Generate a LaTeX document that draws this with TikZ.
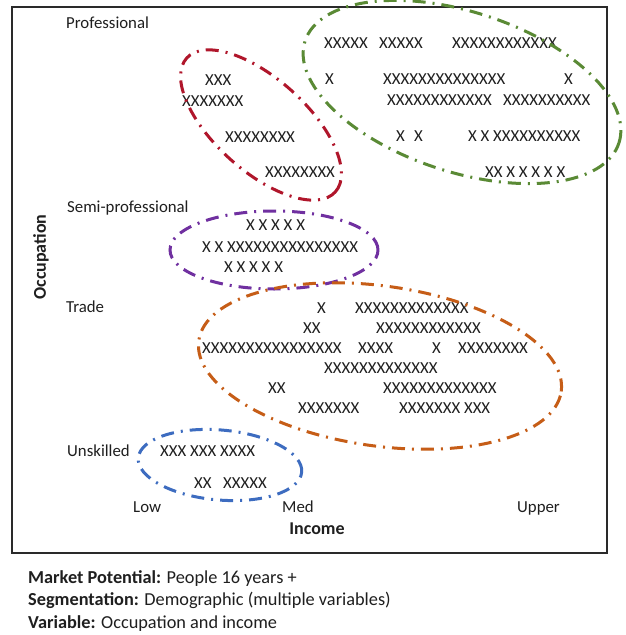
\documentclass[tikz,border=0pt]{standalone}
\usepackage{fontspec}
\setmainfont{Carlito}
\definecolor{ink}{HTML}{1F1F1F}
\definecolor{framec}{HTML}{2A2A2A}
\definecolor{greenE}{HTML}{5A8A35}
\definecolor{redE}{HTML}{B0162B}
\definecolor{purpleE}{HTML}{7030A0}
\definecolor{orangeE}{HTML}{C65D17}
\definecolor{blueE}{HTML}{3D6CC0}
\begin{document}
\begin{tikzpicture}[x=1pt,y=-1pt,
  txt/.style={inner sep=0pt, text=ink, font=\fontsize{16.8}{20}\selectfont},
  xs/.style={txt, anchor=west},
  cat/.style={txt, anchor=base west},
  axislbl/.style={inner sep=0pt, text=ink, font=\fontsize{18}{21}\selectfont\bfseries},
  note/.style={inner sep=0pt, text=ink, anchor=base west, font=\fontsize{18.3}{22}\selectfont},
  seg/.style={line width=3pt, dash pattern=on 13pt off 7pt on 2pt off 7pt},
]
\useasboundingbox (0,0) rectangle (626,635);
\fill[white] (0,0) rectangle (626,635);

% chart frame
\draw[line width=1.5pt, framec] (12,7) rectangle (607,553);

% occupation categories
\node[cat] (professional) at (66,28.5) {Professional};
\node[cat] (semiprof) at (67,212.5) {Semi-professional};
\node[cat] (trade) at (66,312.5) {Trade};
\node[cat] (unskilled) at (67,456.5) {Unskilled};

% income levels
\node[cat] (low) at (133,512.5) {Low};
\node[cat] (med) at (282,512.5) {Med};
\node[cat] (upper) at (517,512.5) {Upper};

% axis titles
\node[axislbl, anchor=base] (income) at (317,534) {Income};
\node[axislbl, rotate=90] (occupation) at (41,257) {Occupation};

% professional / upper income
\node[xs] (g1a) at (324,43) {XXXXX};
\node[xs] (g1b) at (379,43) {XXXXX};
\node[xs] (g1c) at (452,43) {XXXXXXXXXXXX};
\node[xs] (g2a) at (325,79) {X};
\node[xs] (g2b) at (383,79) {XXXXXXXXXXXXXX};
\node[xs] (g2c) at (564,79) {X};
\node[xs] (g3a) at (387,100) {XXXXXXXXXXXX};
\node[xs] (g3b) at (503,100) {XXXXXXXXXX};
\node[xs] (g4a) at (396,136) {X};
\node[xs] (g4b) at (414,136) {X};
\node[xs] (g4c) at (468,136) {X X XXXXXXXXXX};
\node[xs] (g5a) at (485,172) {XX X X X X X};

% professional / low-med income
\node[xs] (r1) at (205,80) {XXX};
\node[xs] (r2) at (182,101) {XXXXXXX};
\node[xs] (r3) at (225,137) {XXXXXXXX};
\node[xs] (r4) at (265,172) {XXXXXXXX};

% semi-professional
\node[xs] (p1) at (246,225) {X X X X X};
\node[xs] (p2) at (202,247) {X X XXXXXXXXXXXXXXX};
\node[xs] (p3) at (224,267) {X X X X X};

% trade
\node[xs] (o1a) at (317,308) {X};
\node[xs] (o1b) at (355,308) {XXXXXXXXXXXXX};
\node[xs] (o2a) at (303,328) {XX};
\node[xs] (o2b) at (376,328) {XXXXXXXXXXXX};
\node[xs] (o3a) at (202,348) {XXXXXXXXXXXXXXXX};
\node[xs] (o3b) at (358,348) {XXXX};
\node[xs] (o3c) at (432,348) {X};
\node[xs] (o3d) at (458,348) {XXXXXXXX};
\node[xs] (o4a) at (324,368) {XXXXXXXXXXXXX};
\node[xs] (o5a) at (268,388) {XX};
\node[xs] (o5b) at (383,388) {XXXXXXXXXXXXX};
\node[xs] (o6a) at (298,408) {XXXXXXX};
\node[xs] (o6b) at (399,408) {XXXXXXX XXX};

% unskilled
\node[xs] (b1) at (160,451) {XXX XXX XXXX};
\node[xs] (b2a) at (194,483) {XX};
\node[xs] (b2b) at (223,483) {XXXXX};

% segment outlines
\draw[seg, greenE, rotate around={-18:(462,92)}] (462,92) ellipse [x radius=165pt, y radius=80pt];
\draw[seg, redE, rotate around={-42:(261,125)}] (261,125) ellipse [x radius=100pt, y radius=46pt];
\draw[seg, purpleE] (274,250) ellipse [x radius=104pt, y radius=39pt];
\draw[seg, orangeE, rotate around={-8:(380,366)}] (380,366) ellipse [x radius=183pt, y radius=80pt];
\draw[seg, blueE, rotate around={-5:(220,465)}] (220,465) ellipse [x radius=82pt, y radius=35pt];

% notes below the chart
\node[note] (n1) at (28,583) {\textbf{Market Potential:} People 16 years +};
\node[note] (n2) at (28,605.5) {\textbf{Segmentation:} Demographic (multiple variables)};
\node[note] (n3) at (28,628) {\textbf{Variable:} Occupation and income};
\end{tikzpicture}
\end{document}
